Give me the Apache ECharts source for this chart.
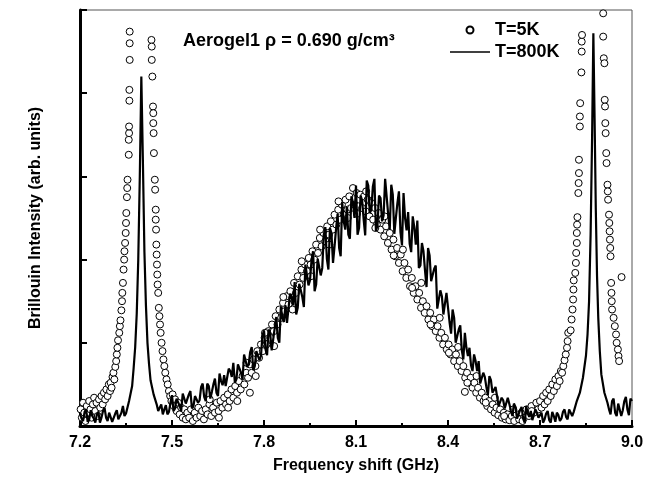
<!DOCTYPE html>
<html>
<head>
<meta charset="utf-8">
<script src="https://cdn.jsdelivr.net/npm/echarts@6/dist/echarts.min.js"></script>
<style>
    html, body {margin:0;padding:0;background:#fff;}
    #chart {width:651px;height:481px;}
</style>
</head>
<body>
<div id="chart"></div>
<script>
    // x ticks (GHz)
    var xTicks = [7.2, 7.5, 7.8, 8.1, 8.4, 8.7, 9.0];

    // T=800K, solid line [GHz, intensity]
    var hotLeft = [
        [7.20,0.15],[7.21,0.06],[7.22,0.2],[7.23,0.08],[7.24,0.12],[7.25,0.04],[7.26,0.17],[7.27,0.1],[7.28,0.22],[7.29,0.06],
        [7.30,0.14],[7.31,0.07],[7.32,0.19],[7.33,0.09],[7.34,0.24],[7.35,0.15],[7.36,0.3],[7.37,0.48],[7.375,0.7],[7.38,0.95],
        [7.385,1.35],[7.39,2.0],[7.395,3.0],[7.40,4.2],[7.405,3.2],[7.41,2.1],[7.415,1.45],[7.42,1.0],[7.425,0.75],[7.43,0.55],
        [7.44,0.38],[7.45,0.26],[7.46,0.2],[7.47,0.14],[7.48,0.25],[7.49,0.17]
    ];
    var hotLeftMid = [
        [7.205,0.09],[7.215,0.17],[7.225,0.05],[7.235,0.19],[7.245,0.09],[7.255,0.14],[7.265,0.04],[7.275,0.18],[7.285,0.1],[7.295,0.16],
        [7.305,0.05],[7.315,0.15],[7.325,0.08],[7.335,0.16],[7.345,0.12],[7.455,0.18],[7.465,0.26],[7.475,0.2],[7.485,0.14],[7.495,0.28]
    ];
    var hotBroad = [
        [7.50,0.37],[7.51,0.21],[7.52,0.31],[7.53,0.18],[7.54,0.38],[7.55,0.29],[7.56,0.42],[7.57,0.24],[7.58,0.36],[7.59,0.31],
        [7.60,0.51],[7.61,0.30],[7.62,0.48],[7.63,0.41],[7.64,0.57],[7.65,0.36],[7.66,0.54],[7.67,0.61],[7.68,0.46],[7.69,0.66],
        [7.70,0.76],[7.71,0.56],[7.72,0.72],[7.73,0.56],[7.74,0.85],[7.75,0.74],[7.76,0.95],[7.77,0.72],[7.78,0.91],[7.79,0.84],
        [7.80,1.15],[7.81,0.85],[7.82,1.12],[7.83,1.04],[7.84,1.31],[7.85,1.0],[7.86,1.30],[7.87,1.45],[7.88,1.23],[7.89,1.55],
        [7.90,1.73],[7.91,1.42],[7.92,1.69],[7.93,1.43],[7.94,1.92],[7.95,1.75],[7.96,2.10],[7.97,1.70],[7.98,2.01],[7.99,1.90],
        [8.00,2.39],[8.01,1.88],[8.02,2.32],[8.03,2.16],[8.04,2.55],[8.05,2.04],[8.06,2.46],[8.07,2.63],[8.08,2.25],[8.09,2.69],
        [8.10,2.89],[8.11,2.38],[8.12,2.71],[8.13,2.29],[8.14,2.89],[8.15,2.60],[8.16,2.97],[8.17,2.41],[8.18,2.74],[8.19,2.53],
        [8.20,2.98],[8.21,2.36],[8.22,2.78],[8.23,2.50],[8.24,2.82],[8.25,2.17],[8.26,2.50],[8.27,2.57],[8.28,2.09],[8.29,2.39],
        [8.30,2.47],[8.31,1.93],[8.32,2.10],[8.33,1.67],[8.34,2.05],[8.35,1.73],[8.36,1.93],[8.37,1.43],[8.38,1.56],[8.39,1.35],
        [8.40,1.60],[8.41,1.11],[8.42,1.30],[8.43,1.08],[8.44,1.21],[8.45,0.80],[8.46,0.94],[8.47,0.94],[8.48,0.66],[8.49,0.78],
        [8.50,0.78],[8.51,0.52],[8.52,0.59],[8.53,0.37],[8.54,0.55],[8.55,0.40],[8.56,0.49],[8.57,0.25],[8.58,0.31],[8.59,0.22],
        [8.60,0.34],[8.61,0.12],[8.62,0.23],[8.63,0.14],[8.64,0.23],[8.65,0.04],[8.66,0.15],[8.67,0.18],[8.68,0.05],[8.69,0.16]
    ];
    var hotBroadMid = [
        [7.505,0.18],[7.515,0.33],[7.525,0.24],[7.535,0.39],[7.545,0.27],[7.555,0.38],[7.565,0.21],[7.575,0.36],[7.585,0.28],[7.595,0.47],
        [7.605,0.35],[7.615,0.51],[7.625,0.33],[7.635,0.50],[7.645,0.40],[7.655,0.63],[7.665,0.49],[7.675,0.48],[7.685,0.69],[7.695,0.59],
        [7.705,0.52],[7.715,0.74],[7.725,0.64],[7.735,0.86],[7.745,0.71],[7.755,0.89],[7.765,0.67],[7.775,0.90],[7.785,0.79],[7.795,1.09],
        [7.805,0.92],[7.815,1.16],[7.825,0.91],[7.835,1.18],[7.845,1.06],[7.855,1.43],[7.865,1.25],[7.875,1.24],[7.885,1.59],[7.895,1.45],
        [7.905,1.34],[7.915,1.71],[7.925,1.55],[7.935,1.94],[7.945,1.69],[7.955,1.99],[7.965,1.62],[7.975,2.01],[7.985,1.81],[7.995,2.30],
        [8.005,2.01],[8.015,2.38],[8.025,1.96],[8.035,2.37],[8.045,2.14],[8.055,2.69],[8.065,2.36],[8.075,2.30],[8.085,2.76],[8.095,2.50],
        [8.105,2.30],[8.115,2.77],[8.125,2.48],[8.135,2.95],[8.145,2.56],[8.155,2.88],[8.165,2.34],[8.175,2.77],[8.185,2.46],[8.195,2.97],
        [8.205,2.54],[8.215,2.90],[8.225,2.31],[8.235,2.68],[8.245,2.33],[8.255,2.80],[8.265,2.35],[8.275,2.19],[8.285,2.52],[8.295,2.18],
        [8.305,1.90],[8.315,2.20],[8.325,1.87],[8.335,2.14],[8.345,1.74],[8.355,1.89],[8.365,1.41],[8.375,1.63],[8.385,1.34],[8.395,1.60],
        [8.405,1.25],[8.415,1.40],[8.425,1.00],[8.435,1.16],[8.445,0.91],[8.455,1.12],[8.465,0.84],[8.475,0.73],[8.485,0.86],[8.495,0.66],
        [8.505,0.51],[8.515,0.64],[8.525,0.47],[8.535,0.60],[8.545,0.40],[8.555,0.47],[8.565,0.24],[8.575,0.34],[8.585,0.21],[8.595,0.34],
        [8.605,0.19],[8.615,0.27],[8.625,0.09],[8.635,0.19],[8.645,0.09],[8.655,0.24],[8.665,0.11],[8.675,0.07],[8.685,0.20],[8.695,0.10]
    ];
    var hotRight = [
        [8.70,0.12],[8.71,0.04],[8.72,0.15],[8.73,0.07],[8.74,0.17],[8.75,0.05],[8.76,0.13],[8.77,0.09],[8.78,0.2],[8.79,0.08],
        [8.80,0.19],[8.81,0.17],[8.82,0.3],[8.83,0.4],[8.84,0.58],[8.85,0.85],[8.855,1.1],[8.86,1.5],[8.865,2.3],[8.87,3.5],
        [8.874,4.72],[8.878,3.7],[8.882,2.6],[8.886,1.8],[8.89,1.3],[8.895,0.9],[8.90,0.62],[8.91,0.4],[8.92,0.28],[8.93,0.14],
        [8.94,0.33],[8.95,0.12],[8.96,0.29],[8.97,0.19],[8.98,0.35],[8.99,0.13],[9.00,0.3]
    ];
    var hotRightMid = [
        [8.705,0.16],[8.715,0.08],[8.725,0.18],[8.735,0.04],[8.745,0.12],[8.755,0.16],[8.765,0.06],[8.775,0.17],[8.785,0.11],[8.795,0.2],
        [8.805,0.12],[8.925,0.2],[8.935,0.3],[8.945,0.16],[8.955,0.27],[8.965,0.12],[8.975,0.3],[8.985,0.2],[8.995,0.33]
    ];

    // T=5K, open circles [GHz, intensity]
    var coldLeft = [
        [7.202,0.2],[7.206,0.1],[7.21,0.28],[7.214,0.16],[7.218,0.06],[7.222,0.24],[7.226,0.14],[7.23,0.3],[7.234,0.2],[7.238,0.1],
        [7.242,0.26],[7.246,0.34],[7.25,0.18],[7.254,0.28],[7.258,0.12],[7.262,0.32],[7.266,0.22],[7.27,0.36],[7.274,0.26],[7.278,0.4],
        [7.282,0.32],[7.286,0.44],[7.29,0.36],[7.294,0.5],[7.298,0.42],[7.3,0.52],[7.303,0.46],[7.306,0.59],[7.309,0.64],[7.312,0.56],
        [7.315,0.71],[7.318,0.78],[7.32,0.86],[7.322,0.94],[7.324,1.03],[7.328,1.12],[7.33,1.2],[7.332,1.27],[7.335,1.39],[7.337,1.5],
        [7.338,1.6],[7.34,1.72],[7.342,1.88],[7.344,2.0],[7.345,2.1],[7.347,2.2],[7.349,2.32],[7.35,2.44],[7.351,2.56],[7.353,2.75],
        [7.354,2.86],[7.355,2.96],[7.359,3.26],[7.359,3.44],[7.36,3.52],[7.36,3.6],[7.361,3.91],[7.361,4.04],[7.362,4.4],[7.362,4.6],
        [7.362,4.74],
        [7.433,4.64],[7.434,4.56],[7.434,4.4],[7.436,4.2],[7.438,3.84],[7.439,3.76],[7.439,3.64],[7.44,3.52],[7.441,3.28],[7.444,2.96],
        [7.445,2.84],[7.447,2.6],[7.447,2.48],[7.448,2.36],[7.449,2.18],[7.45,2.06],[7.451,1.94],[7.452,1.82],[7.453,1.7],[7.455,1.6],
        [7.457,1.42],[7.459,1.32],[7.461,1.22],[7.463,1.12],[7.466,1.0],[7.469,0.9],[7.472,0.8],[7.475,0.72],[7.478,0.64],[7.482,0.56],
        [7.486,0.5],[7.49,0.42],[7.494,0.36],[7.498,0.3],[7.502,0.38],[7.506,0.24],[7.51,0.32],[7.515,0.18],[7.52,0.28],[7.525,0.14],
        [7.53,0.22],[7.535,0.1],[7.54,0.2],[7.545,0.08],[7.55,0.16]
    ];
    var coldBroad = [
        [7.556,0.1],[7.562,0.2],[7.568,0.06],[7.574,0.16],[7.58,0.1],[7.586,0.22],[7.592,0.12],[7.598,0.18],[7.604,0.08],[7.61,0.2],
        [7.616,0.14],[7.622,0.26],[7.628,0.12],[7.634,0.22],[7.64,0.16],[7.646,0.28],[7.652,0.18],[7.658,0.3],[7.664,0.22],[7.67,0.34],
        [7.676,0.26],[7.682,0.38],[7.688,0.3],[7.694,0.44],[7.7,0.34],[7.706,0.48],[7.712,0.4],[7.718,0.54],[7.724,0.44],[7.73,0.6],
        [7.736,0.5],[7.742,0.64],[7.748,0.58],[7.754,0.74],[7.76,0.64],[7.766,0.8],[7.772,0.72],[7.778,0.9],[7.784,0.82],[7.79,0.98],
        [7.796,0.9],[7.802,1.06],[7.808,0.98],[7.814,1.14],[7.82,1.06],[7.826,1.22],[7.832,1.14],[7.838,1.32],[7.844,1.22],[7.85,1.4],
        [7.856,1.3],[7.862,1.48],[7.868,1.38],[7.874,1.56],[7.88,1.46],[7.886,1.62],[7.892,1.54],[7.898,1.72],[7.904,1.6],[7.91,1.8],
        [7.916,1.7],[7.922,1.88],[7.928,1.78],[7.934,1.94],[7.94,1.86],[7.946,2.02],[7.952,1.94],[7.958,2.1],[7.964,2.0],[7.97,2.18],
        [7.976,2.08],[7.982,2.26],[7.988,2.16],[7.994,2.32],[8.0,2.22],[8.006,2.4],[8.012,2.3],[8.018,2.46],[8.024,2.36],[8.03,2.54],
        [8.036,2.42],[8.042,2.6],[8.048,2.48],[8.054,2.66],[8.06,2.54],[8.066,2.72],[8.072,2.6],[8.078,2.76],[8.084,2.62],[8.09,2.86],
        [8.096,2.66],[8.102,2.8],[8.108,2.64],[8.114,2.78],[8.12,2.62],[8.126,2.76],[8.132,2.58],[8.138,2.72],[8.144,2.52],[8.15,2.68],
        [8.156,2.48],[8.162,2.62],[8.168,2.42],[8.174,2.56],[8.18,2.36],[8.186,2.48],[8.192,2.28],[8.198,2.4],[8.204,2.2],[8.21,2.32],
        [8.216,2.12],[8.222,2.24],[8.228,2.04],[8.234,2.14],[8.24,1.96],[8.246,2.06],[8.252,1.86],[8.258,1.96],[8.264,1.78],[8.27,1.88],
        [8.276,1.68],[8.282,1.78],[8.288,1.6],[8.294,1.68],[8.3,1.52],[8.306,1.6],[8.312,1.42],[8.318,1.5],[8.324,1.36],[8.33,1.44],
        [8.336,1.28],[8.342,1.36],[8.348,1.2],[8.354,1.28],[8.36,1.14],[8.366,1.2],[8.372,1.06],[8.378,1.12],[8.384,0.98],[8.39,1.06],
        [8.396,0.92],[8.402,0.98],[8.408,0.86],[8.414,0.92],[8.42,0.78],[8.426,0.86],[8.432,0.72],[8.438,0.78],[8.444,0.66],[8.45,0.72],
        [8.456,0.58],[8.462,0.64],[8.468,0.52],[8.474,0.58],[8.48,0.46],[8.486,0.52],[8.492,0.4],[8.498,0.46],[8.504,0.34],[8.51,0.4],
        [8.516,0.3],[8.522,0.34],[8.528,0.24],[8.534,0.3],[8.54,0.2],[8.546,0.26],[8.552,0.16],[8.558,0.22],[8.564,0.13],[8.57,0.2],
        [8.576,0.1],[8.582,0.16],[8.588,0.08],[8.594,0.14],[8.6,0.07],[8.608,0.12],[8.616,0.06],[8.624,0.14],[8.632,0.08],[8.64,0.16],
        [8.648,0.1],[8.656,0.2],[8.664,0.12],[8.672,0.24],[8.68,0.16],[8.688,0.28],[8.694,0.2]
    ];
    // scattered circles that widen the broad band
    var coldSpread = [
        [7.623,0.32],[7.653,0.1],[7.683,0.22],[7.713,0.3],[7.743,0.76],[7.754,0.4],[7.773,0.6],[7.803,1.12],[7.833,0.96],[7.863,1.55],
        [7.893,1.4],[7.923,1.98],[7.953,1.8],[7.983,2.36],[8.013,2.18],[8.043,2.7],[8.073,2.5],[8.103,2.55],[8.133,2.82],[8.163,2.38],
        [8.193,2.52],[8.223,2.05],[8.253,2.12],[8.283,1.66],[8.313,1.72],[8.343,1.22],[8.373,1.3],[8.403,0.88],[8.433,0.95],[8.455,0.41],
        [8.463,0.52],[8.493,0.6],[8.523,0.28],[8.553,0.34],[8.583,0.12],[8.613,0.2],[8.643,0.06],[8.673,0.18]
    ];
    var coldRight = [
        [8.7,0.3],[8.705,0.22],[8.71,0.36],[8.715,0.26],[8.72,0.4],[8.725,0.3],[8.73,0.44],[8.735,0.36],[8.74,0.5],[8.745,0.42],
        [8.75,0.56],[8.755,0.48],[8.76,0.6],[8.764,0.54],[8.768,0.66],[8.772,0.64],[8.776,0.72],[8.78,0.79],[8.784,0.86],[8.788,0.94],
        [8.79,1.02],[8.792,1.12],[8.8,1.15],[8.803,1.28],[8.806,1.4],[8.808,1.52],[8.809,1.64],[8.81,1.75],[8.815,1.84],[8.817,1.96],
        [8.818,2.08],[8.82,2.2],[8.82,2.32],[8.821,2.42],[8.822,2.51],[8.825,2.8],[8.826,2.92],[8.827,3.04],[8.827,3.2],[8.83,3.6],
        [8.83,3.72],[8.831,3.88],[8.835,4.25],[8.836,4.5],[8.836,4.62],[8.837,4.7],
        [8.906,4.96],[8.906,4.68],[8.908,4.42],[8.91,4.36],[8.911,3.92],[8.912,3.84],[8.913,3.64],[8.914,3.52],[8.916,3.28],[8.917,3.16],
        [8.92,2.9],[8.921,2.82],[8.922,2.72],[8.925,2.54],[8.926,2.44],[8.927,2.34],[8.928,2.24],[8.929,2.14],[8.93,2.04],[8.966,1.79],
        [8.932,1.72],[8.933,1.6],[8.934,1.5],[8.935,1.4],[8.94,1.3],[8.944,1.2],[8.948,1.1],[8.95,1.0],[8.954,0.92],[8.956,0.84],
        [8.958,0.78]
    ];

    // merge the line samples and put them in x order
    var hot800 = hotLeft.concat(hotLeftMid, hotBroad, hotBroadMid, hotRight, hotRightMid)
        .sort(function (a, b) { return a[0] - b[0]; });
    var cold5 = coldLeft.concat(coldBroad, coldSpread, coldRight);

    var chart = echarts.init(document.getElementById('chart'));
    var font = '"Liberation Sans", Arial, sans-serif';

    var option = {
        animation: false,
        backgroundColor: '#fff',
        grid: {
            left: 80, right: 19, top: 10, bottom: 55,
            show: true, borderColor: '#555', borderWidth: 1
        },
        legend: {
            orient: 'vertical',
            left: 445, top: 16,
            itemWidth: 40, itemHeight: 7, itemGap: 4,
            textStyle: {fontFamily: font, fontSize: 18, fontWeight: 'bold', color: '#000'},
            data: [
                {name: 'T=5K', icon: 'circle'},
                {name: 'T=800K', icon: 'path://M0,0L40,0L40,1.5L0,1.5Z'}
            ]
        },
        graphic: [{
            type: 'text', left: 183, top: 32,
            style: {text: 'Aerogel1 ρ = 0.690 g/cm³', fontFamily: font, fontSize: 18, fontWeight: 'bold', fill: '#000'}
        }],
        xAxis: {
            type: 'value', min: 7.2, max: 9.0, interval: 0.3,
            name: 'Frequency shift (GHz)', nameLocation: 'middle', nameGap: 32,
            nameTextStyle: {fontFamily: font, fontSize: 16, fontWeight: 'bold', color: '#000'},
            axisLine: {lineStyle: {color: '#000', width: 3}},
            axisTick: {inside: true, length: 6, lineStyle: {color: '#000', width: 2}},
            minorTick: {show: true, splitNumber: 2, length: 3, lineStyle: {color: '#000', width: 2}},
            splitLine: {show: false},
            axisLabel: {
                margin: 9, fontFamily: font, fontSize: 16, fontWeight: 'bold', color: '#000',
                formatter: function (v) { return xTicks.indexOf(+v.toFixed(1)) >= 0 ? v.toFixed(1) : ''; }
            }
        },
        yAxis: {
            type: 'value', min: 0, max: 5, interval: 1,
            name: 'Brillouin Intensity (arb. units)', nameLocation: 'middle', nameGap: 36,
            nameTextStyle: {fontFamily: font, fontSize: 16, fontWeight: 'bold', color: '#000'},
            axisLine: {show: true, lineStyle: {color: '#000', width: 3}},
            axisTick: {show: true, inside: true, length: 7, lineStyle: {color: '#000', width: 2}},
            splitLine: {show: false},
            axisLabel: {show: false}
        },
        series: [
            {
                name: 'T=800K', type: 'line', data: hot800,
                symbol: 'none', color: '#000',
                lineStyle: {color: '#000', width: 2.2}
            },
            {
                name: 'T=5K', type: 'scatter', data: cold5,
                symbol: 'circle', symbolSize: 7,
                itemStyle: {color: '#fff', borderColor: '#000', borderWidth: 1, opacity: 1}
            }
        ]
    };
    chart.setOption(option);
</script>
</body>
</html>
